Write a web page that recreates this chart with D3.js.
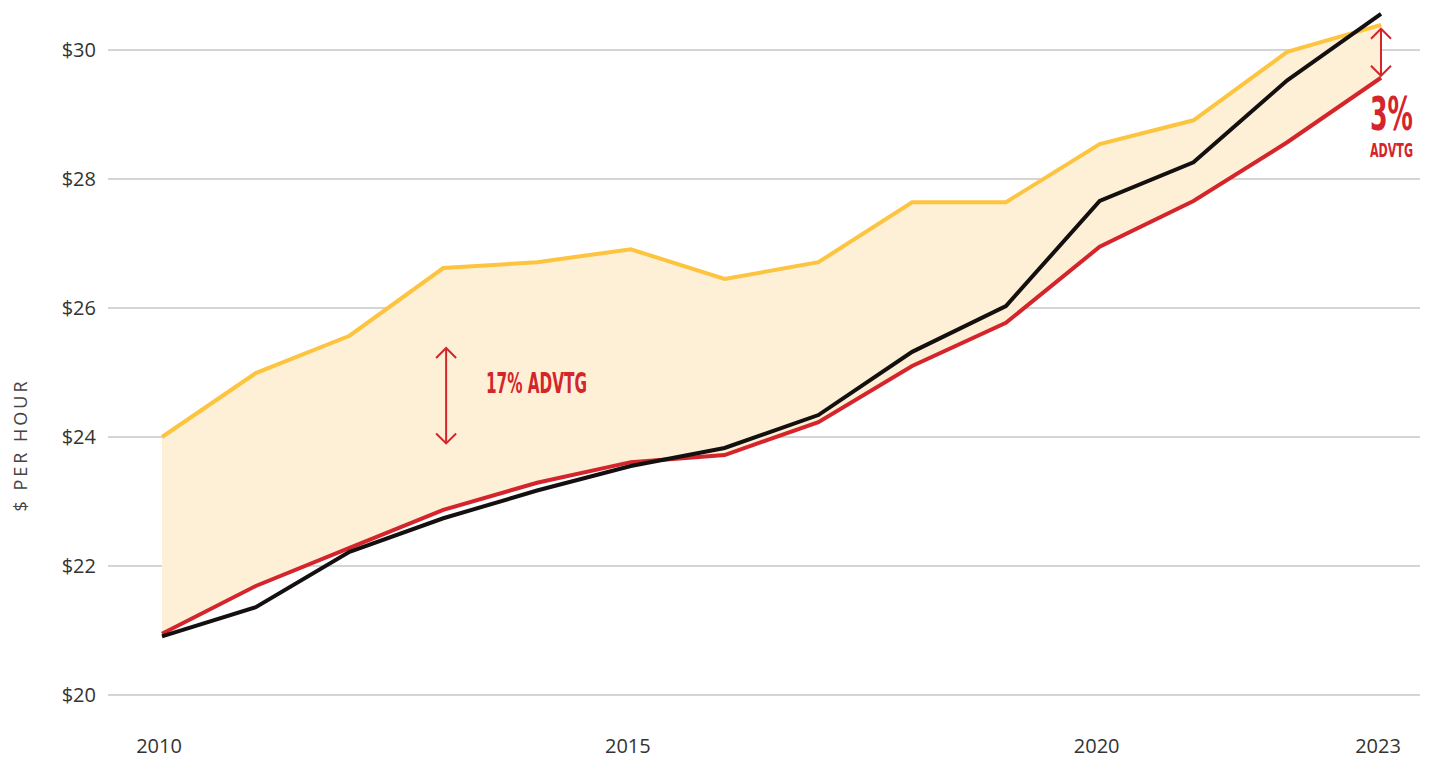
<!DOCTYPE html>
<html>
<head>
<meta charset="utf-8">
<script src="https://cdn.jsdelivr.net/npm/d3@7"></script>
<style>
  body { margin: 0; background: #fff; }
  svg { display: block; }
</style>
</head>
<body>
<div id="chart"></div>
<script>
// data
var years = [2010, 2011, 2012, 2013, 2014, 2015, 2016, 2017, 2018, 2019, 2020, 2021, 2022, 2023];
var yellowVals = [24.00, 24.99, 25.57, 26.62, 26.71, 26.91, 26.45, 26.71, 27.64, 27.64, 28.54, 28.91, 29.97, 30.39];
var redVals    = [20.95, 21.69, 22.28, 22.87, 23.29, 23.61, 23.72, 24.23, 25.10, 25.77, 26.95, 27.66, 28.57, 29.57];
var blackVals  = [20.91, 21.36, 22.22, 22.74, 23.17, 23.55, 23.83, 24.34, 25.32, 26.03, 27.66, 28.26, 29.53, 30.56];
var yTicks = [20, 22, 24, 26, 28, 30];
var xTicks = [2010, 2015, 2020, 2023];
// annotations: [year, from value, to value]
var arrows = [[2013.03, 25.38, 23.90], [2023, 30.33, 29.60]];

var W = 1431, H = 759;
var svg = d3.select("#chart").append("svg")
    .attr("width", W)
    .attr("height", H);

var x = d3.scaleLinear().domain([2010, 2023]).range([162, 1381]);
var y = d3.scaleLinear().domain([20, 30]).range([695, 50]);

var rows = years.map(function(d, i){
    return { year: d, yellow: yellowVals[i], red: redVals[i], black: blackVals[i] };
});

var tickFont = "'Open Sans', Lato, sans-serif";

// grid lines
svg.append("g").selectAll("line")
    .data(yTicks)
    .enter().append("line")
    .attr("x1", 108).attr("x2", 1420)
    .attr("y1", function(d){ return y(d); })
    .attr("y2", function(d){ return y(d); })
    .style("stroke", "#d5d5d5")
    .style("stroke-width", 2);

// y tick labels
svg.append("g").selectAll("text")
    .data(yTicks)
    .enter().append("text")
    .attr("x", 96)
    .attr("y", function(d){ return y(d); })
    .attr("dy", "0.35em")
    .attr("text-anchor", "end")
    .style("font-family", tickFont)
    .style("font-size", "20px")
    .style("fill", "#333")
    .text(function(d){ return "$" + d; });

// x tick labels
svg.append("g").selectAll("text")
    .data(xTicks)
    .enter().append("text")
    .attr("x", function(d){ return x(d) - 3; })
    .attr("y", 753)
    .attr("text-anchor", "middle")
    .style("font-family", tickFont)
    .style("font-size", "20px")
    .style("fill", "#333")
    .text(function(d){ return d; });

// y axis title
svg.append("text")
    .attr("transform", "translate(27,445) rotate(-90)")
    .attr("text-anchor", "middle")
    .style("font-family", tickFont)
    .style("font-size", "18px")
    .style("letter-spacing", "3px")
    .style("fill", "#444")
    .text("$ PER HOUR");

// shaded band between yellow and red
var area = d3.area()
    .x(function(d){ return x(d.year); })
    .y0(function(d){ return y(d.red); })
    .y1(function(d){ return y(d.yellow); });

svg.append("path")
    .datum(rows)
    .attr("d", area)
    .style("fill", "#fdf0d6");

function lineFor(key){
    return d3.line()
        .x(function(d){ return x(d.year); })
        .y(function(d){ return y(d[key]); });
}

svg.append("path").datum(rows).attr("d", lineFor("yellow"))
    .style("fill", "none").style("stroke", "#fdc43f").style("stroke-width", 4);
svg.append("path").datum(rows).attr("d", lineFor("red"))
    .style("fill", "none").style("stroke", "#d4252c").style("stroke-width", 4);
svg.append("path").datum(rows).attr("d", lineFor("black"))
    .style("fill", "none").style("stroke", "#141010").style("stroke-width", 4);

// double arrows
var red = "#d4252c";
arrows.forEach(function(a){
    var ax = x(a[0]), y1 = y(a[1]), y2 = y(a[2]);
    var g = svg.append("g")
        .style("stroke", red).style("stroke-width", 2).style("fill", "none");
    g.append("line").attr("x1", ax).attr("x2", ax).attr("y1", y1).attr("y2", y2);
    g.append("polyline").attr("points", [[ax - 10, y1 + 10], [ax, y1], [ax + 10, y1 + 10]].join(" "));
    g.append("polyline").attr("points", [[ax - 10, y2 - 10], [ax, y2], [ax + 10, y2 - 10]].join(" "));
});

var condensed = "'Liberation Sans Narrow', 'DejaVu Sans Condensed', 'Roboto Condensed', sans-serif";

// condensed label squeezed to a given width with a horizontal scale
function squeezed(txt, px, py, size, width){
    var g = svg.append("g");
    var t = g.append("text")
        .attr("x", 0).attr("y", 0)
        .style("font-family", condensed)
        .style("font-weight", "bold")
        .style("font-size", size + "px")
        .style("fill", red)
        .text(txt);
    var sx = width / t.node().getComputedTextLength();
    g.attr("transform", "translate(" + px + "," + py + ") scale(" + sx + ",1)");
}

squeezed("17% ADVTG", 486, 393, 29, 101);
squeezed("3%", 1370, 130, 46, 43);
squeezed("ADVTG", 1370, 157, 19, 43);
</script>
</body>
</html>
